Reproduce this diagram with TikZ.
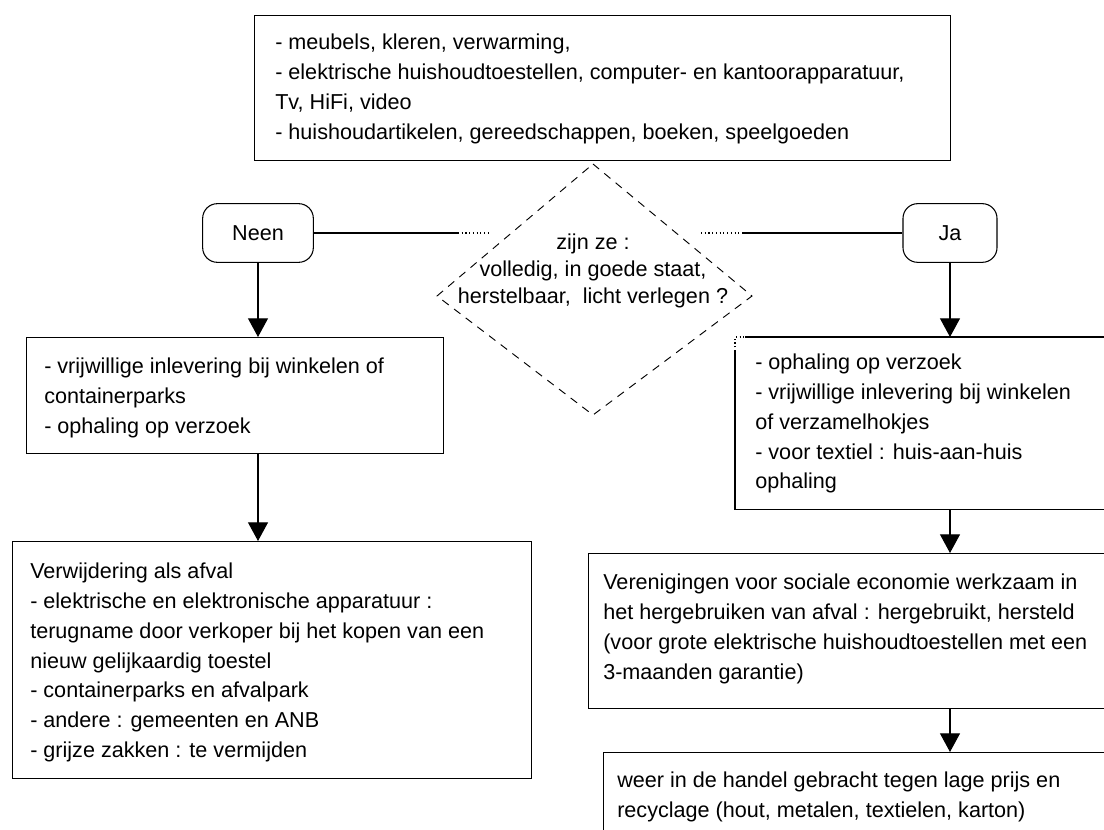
\documentclass[tikz,border=0pt]{standalone}
\usepackage{fontspec}
\setmainfont{Liberation Sans}
\usetikzlibrary{arrows.meta,calc}
\begin{document}
\begin{tikzpicture}[x=0.75pt,y=-0.75pt,
  box/.style={draw=black, line width=0.8pt, rectangle, inner sep=0pt, anchor=north west},
  txt/.style={anchor=north west, inner sep=0pt, align=left, font=\fontsize{16.2pt}{22.3pt}\selectfont},
  pill/.style={draw, line width=0.8pt, rounded corners=11pt, minimum height=44pt, inner sep=0pt, font=\fontsize{16.2pt}{22.3pt}\selectfont},
  conn/.style={line width=0.8pt},
  arr/.style={line width=0.8pt, -{Triangle[width=15pt,length=14pt]}},
  dia/.style={line width=0.7pt, dash pattern=on 6pt off 5pt},
]
\path[use as bounding box, fill=white] (0,0) rectangle (1104,830);
\clip (0,0) rectangle (1104,830);

% top box
\node[box, minimum width=522pt, minimum height=108.75pt] (top) at (254,15) {};
\node[txt] (toptxt) at (275,34) {- meubels, kleren, verwarming,\\- elektrische huishoudtoestellen, computer- en kantoorapparatuur,\\Tv, HiFi, video\\- huishoudartikelen, gereedschappen, boeken, speelgoeden};

% diamond
\coordinate (dT) at (593,164);
\coordinate (dR) at (752,296);
\coordinate (dB) at (593,415);
\coordinate (dL) at (437,296);
\draw[dia] (dT) -- (dR) -- (dB) -- (dL) -- cycle;
\node[align=center, inner sep=0pt, font=\fontsize{16.2pt}{20.25pt}\selectfont] (q) at (593,271) {zijn ze :\\volledig, in goede staat,\\herstelbaar,~~licht verlegen ?};

% Neen / Ja
\node[pill, minimum width=83pt] (neen) at (258,233) {Neen};
\node[pill, minimum width=70.5pt] (ja) at (950,233) {Ja};
\coordinate (dl1) at (458,233);
\coordinate (dl2) at (488,233);
\coordinate (dr1) at (701,233);
\coordinate (dr2) at (742,233);
\draw[conn] (neen.east) -- (dl1);
\draw[conn, dotted] (dl1) -- (dl2);
\draw[conn, dotted] (dr1) -- (dr2);
\draw[conn] (dr2) -- (ja.west);

% left column
\node[box, minimum width=312.75pt, minimum height=87pt] (lb1) at (26,337) {};
\node[txt] (lb1t) at (44,358) {- vrijwillige inlevering bij winkelen of\\containerparks\\- ophaling op verzoek};
\node[box, minimum width=389.25pt, minimum height=177.75pt] (lb2) at (12,541) {};
\node[txt] (lb2t) at (30,563) {Verwijdering als afval\\- elektrische en elektronische apparatuur :\\terugname door verkoper bij het kopen van een\\nieuw gelijkaardig toestel\\- containerparks en afvalpark\\- andere : gemeenten en ANB\\- grijze zakken : te vermijden};

% right column
\node[box, draw=none, minimum width=300pt, minimum height=128.25pt] (rb1) at (735,337) {};
\draw[conn] ($(rb1.north west)+(10,0)$) -- (rb1.north east) -- (rb1.south east) -- (rb1.south west) -- ($(rb1.north west)+(0,14)$);
\draw[conn, dotted] ($(rb1.north west)+(0,14)$) -- (rb1.north west) -- ($(rb1.north west)+(10,0)$);
\node[txt] (rb1t) at (755,354) {- ophaling op verzoek\\- vrijwillige inlevering bij winkelen\\of verzamelhokjes\\- voor textiel : huis-aan-huis\\ophaling};
\node[box, minimum width=405pt, minimum height=116.25pt] (ver) at (588,553) {};
\node[txt] (vert) at (603,574) {Verenigingen voor sociale economie werkzaam in\\het hergebruiken van afval : hergebruikt, hersteld\\(voor grote elektrische huishoudtoestellen met een\\3-maanden garantie)};
\node[box, minimum width=390pt, minimum height=75pt] (thr) at (603,752) {};
\node[txt] (thrt) at (617,772) {weer in de handel gebracht tegen lage prijs en\\recyclage (hout, metalen, textielen, karton)};

% arrows
\draw[arr] (neen.south) -- (neen.south |- lb1.north);
\draw[arr] (neen.south |- lb1.south) -- (neen.south |- lb2.north);
\draw[arr] (ja.south) -- (ja.south |- rb1.north);
\draw[arr] (ja.south |- rb1.south) -- (ja.south |- ver.north);
\draw[arr] (ja.south |- ver.south) -- (ja.south |- thr.north);
\end{tikzpicture}
\end{document}
